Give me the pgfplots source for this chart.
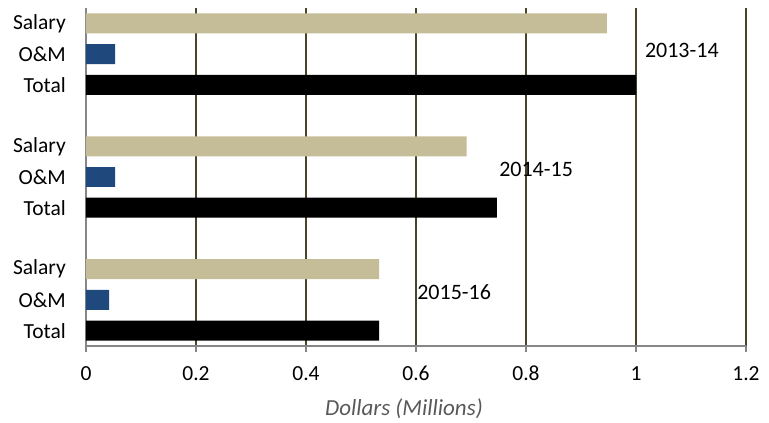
\documentclass[border=0pt]{standalone}
\usepackage{fontspec}
\setmainfont{Carlito}
\usepackage{pgfplots}
\pgfplotsset{compat=1.18}
\definecolor{salary}{HTML}{C4BD97}
\definecolor{om}{HTML}{1F497D}
\definecolor{gridc}{HTML}{4A452A}
\definecolor{axisc}{HTML}{868686}
\definecolor{labc}{HTML}{595959}
\begin{document}
\begin{tikzpicture}
\fontsize{21bp}{25bp}\selectfont
\begin{axis}[
  scale only axis,
  width=660bp, height=338bp,
  xmin=0, xmax=1.2,
  ymin=-0.5, ymax=10.5,
  axis lines*=left,
  axis line style={axisc, line width=1.5bp, -},
  xtick={0,0.2,0.4,0.6,0.8,1,1.2},
  xmajorgrids=true,
  grid style={gridc, line width=1.8bp},
  tick align=outside,
  major tick length=6bp,
  tick style={axisc, line width=1.5bp},
  ytick={0,1,2,4,5,6,8,9,10},
  yticklabels={Total,O\&M,Salary,Total,O\&M,Salary,Total,O\&M,Salary},
  minor ytick={-0.5,0.5,1.5,2.5,3.5,4.5,5.5,6.5,7.5,8.5,9.5,10.5},
  ytick style={draw=none},
  minor tick style={axisc, line width=1.5bp},
  minor tick length=7bp,
  /pgf/number format/assume math mode=true,
  ticklabel style={font=\fontsize{21.5bp}{25bp}\selectfont, black},
  yticklabel style={xshift=-7bp},
  xticklabel style={yshift=-7bp},
  xlabel={Dollars (Millions)},
  xlabel style={font=\fontsize{23bp}{27bp}\selectfont\itshape, labc, yshift=-3bp, xshift=-12bp},
  xbar, bar width=0.65, bar shift=0pt,
  clip=false,
]
\addplot[fill=salary, draw=none] coordinates {(0.947,10) (0.692,6) (0.533,2)};
\addplot[fill=om, draw=none] coordinates {(0.053,9) (0.053,5) (0.042,1)};
\addplot[fill=black, draw=none] coordinates {(1.0,8) (0.747,4) (0.533,0)};
\node[anchor=west, inner sep=0pt, font=\fontsize{22bp}{26bp}\selectfont] at (axis cs:1.016,9.13) {2013-14};
\node[anchor=west, inner sep=0pt, font=\fontsize{22bp}{26bp}\selectfont] at (axis cs:0.751,5.26) {2014-15};
\node[anchor=west, inner sep=0pt, font=\fontsize{22bp}{26bp}\selectfont] at (axis cs:0.602,1.26) {2015-16};
\coordinate (sw) at (rel axis cs:0,0);
\coordinate (ne) at (rel axis cs:1,1);
\end{axis}
\pgfresetboundingbox
\path ([shift={(-86bp,-77bp)}]sw) rectangle ([shift={(23bp,8bp)}]ne);
\end{tikzpicture}
\end{document}
